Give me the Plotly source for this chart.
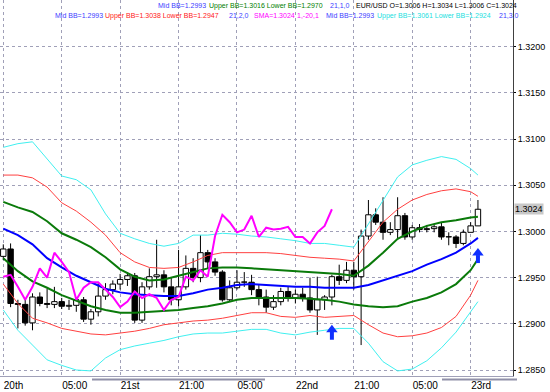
import plotly.graph_objects as go

# ---------------- data ----------------
bars = list(range(66))
opens = [1.2973, 1.2981, 1.2922, 1.2921, 1.2901, 1.2929, 1.2922, 1.2921, 1.2924, 1.2919,
         1.2920, 1.2926, 1.2905, 1.2913, 1.2930, 1.2937, 1.2943, 1.2948, 1.2952, 1.2904,
         1.2940, 1.2951, 1.2953, 1.2940, 1.2926, 1.2940, 1.2960, 1.2950, 1.2977, 1.2967,
         1.2956, 1.2926, 1.2939, 1.2945, 1.2945, 1.2937, 1.2929, 1.2918, 1.2924, 1.2935,
         1.2928, 1.2932, 1.2928, 1.2915, 1.2926, 1.2929, 1.2951, 1.2947, 1.2958, 1.2951,
         1.2995, 1.3018, 1.3010, 1.2999, 1.3002, 1.3017, 1.2994, 1.3004, 1.3002, 1.3003,
         1.3005, 1.2994, 1.2994, 1.2987, 1.2999, 1.3006]
highs = [1.2986, 1.2987, 1.2926, 1.2926, 1.2933, 1.2934, 1.2938, 1.2940, 1.2928, 1.2926,
         1.2929, 1.2929, 1.2916, 1.2944, 1.2944, 1.2947, 1.2954, 1.2956, 1.2955, 1.2945,
         1.2960, 1.2991, 1.2958, 1.2950, 1.2980, 1.2974, 1.2971, 1.2996, 1.2980, 1.2971,
         1.2958, 1.2947, 1.2958, 1.2956, 1.2953, 1.2942, 1.2937, 1.2931, 1.2939, 1.2940,
         1.2937, 1.2939, 1.2950, 1.2951, 1.2931, 1.2953, 1.2964, 1.2967, 1.2967, 1.3002,
         1.3034, 1.3025, 1.3037, 1.3010, 1.3037, 1.3020, 1.3007, 1.3008, 1.3007, 1.3007,
         1.3010, 1.2999, 1.2996, 1.3002, 1.3010, 1.3034]
lows = [1.2969, 1.2918, 1.2895, 1.2898, 1.2893, 1.2919, 1.2917, 1.2917, 1.2916, 1.2915,
        1.2913, 1.2902, 1.2899, 1.2908, 1.2926, 1.2932, 1.2937, 1.2941, 1.2901, 1.2901,
        1.2937, 1.2939, 1.2934, 1.2920, 1.2919, 1.2937, 1.2945, 1.2945, 1.2960, 1.2952,
        1.2924, 1.2924, 1.2937, 1.2940, 1.2931, 1.2920, 1.2912, 1.2915, 1.2920, 1.2924,
        1.2922, 1.2924, 1.2912, 1.2888, 1.2915, 1.2920, 1.2942, 1.2944, 1.2937, 1.2877,
        1.2991, 1.3007, 1.2991, 1.2996, 1.2991, 1.2991, 1.2991, 1.2999, 1.2999, 1.2999,
        1.2991, 1.2985, 1.2982, 1.2985, 1.2999, 1.3006]
closes = [1.2981, 1.2922, 1.2921, 1.2901, 1.2929, 1.2922, 1.2921, 1.2924, 1.2919, 1.2920,
          1.2926, 1.2905, 1.2913, 1.2930, 1.2937, 1.2943, 1.2948, 1.2952, 1.2904, 1.2940,
          1.2951, 1.2953, 1.2940, 1.2926, 1.2940, 1.2960, 1.2950, 1.2977, 1.2967, 1.2956,
          1.2926, 1.2939, 1.2945, 1.2945, 1.2937, 1.2929, 1.2918, 1.2924, 1.2935, 1.2928,
          1.2932, 1.2928, 1.2915, 1.2926, 1.2929, 1.2951, 1.2947, 1.2958, 1.2951, 1.2995,
          1.3018, 1.3010, 1.2999, 1.3002, 1.3017, 1.2994, 1.3004, 1.3002, 1.3003, 1.3005,
          1.2994, 1.2994, 1.2987, 1.2999, 1.3006, 1.3024]

band_x = list(range(0, 65, 2)) + [65]
mid_bb = [1.3003, 1.2996, 1.2986, 1.2971, 1.2961, 1.2952, 1.2945, 1.2938, 1.2934, 1.2932,
          1.2931, 1.2930, 1.2930, 1.2933, 1.2937, 1.2939, 1.2942, 1.2943, 1.2942, 1.2941,
          1.2940, 1.2940, 1.2939, 1.2939, 1.2939, 1.2942, 1.2947, 1.2952, 1.2957, 1.2964,
          1.2970, 1.2977, 1.2987, 1.2993]
upper_1 = [1.3032, 1.3026, 1.3021, 1.3011, 1.2998, 1.2991, 1.2983, 1.2972, 1.2959, 1.2951,
           1.2947, 1.2948, 1.2952, 1.2956, 1.2960, 1.2961, 1.2961, 1.2960, 1.2959, 1.2958,
           1.2957, 1.2956, 1.2955, 1.2954, 1.2952, 1.2963, 1.2977, 1.2992, 1.3000, 1.3006,
           1.3010, 1.3012, 1.3015, 1.3016]
lower_1 = [1.2971, 1.2957, 1.2946, 1.2939, 1.2931, 1.2925, 1.2919, 1.2915, 1.2912, 1.2912,
           1.2913, 1.2914, 1.2915, 1.2917, 1.2919, 1.2922, 1.2926, 1.2928, 1.2928, 1.2928,
           1.2928, 1.2927, 1.2926, 1.2924, 1.2921, 1.2919, 1.2918, 1.2919, 1.2924, 1.2928,
           1.2934, 1.2943, 1.2958, 1.2970]
upper_2 = [1.3061, 1.3061, 1.3058, 1.3048, 1.3031, 1.3022, 1.3010, 1.2996, 1.2977, 1.2967,
           1.2961, 1.2960, 1.2961, 1.2967, 1.2974, 1.2977, 1.2977, 1.2977, 1.2977, 1.2976,
           1.2974, 1.2972, 1.2971, 1.2970, 1.2968, 1.2989, 1.3010, 1.3024, 1.3034, 1.3040,
           1.3044, 1.3046, 1.3043, 1.3038]
lower_2 = [1.2943, 1.2922, 1.2906, 1.2901, 1.2895, 1.2892, 1.2889, 1.2888, 1.2890, 1.2892,
           1.2895, 1.2899, 1.2901, 1.2903, 1.2904, 1.2906, 1.2909, 1.2912, 1.2912, 1.2908,
           1.2907, 1.2909, 1.2907, 1.2908, 1.2909, 1.2899, 1.2890, 1.2886, 1.2887, 1.2890,
           1.2896, 1.2908, 1.2931, 1.2947]
upper_3 = [1.3091, 1.3095, 1.3097, 1.3079, 1.3060, 1.3056, 1.3045, 1.3019, 1.2998, 1.2992,
           1.2987, 1.2984, 1.2987, 1.2996, 1.2996, 1.2998, 1.2997, 1.2995, 1.2994, 1.2992,
           1.2990, 1.2987, 1.2987, 1.2985, 1.2983, 1.3008, 1.3034, 1.3059, 1.3072, 1.3077,
           1.3081, 1.3078, 1.3068, 1.3061]
lower_3 = [1.2915, 1.2893, 1.2877, 1.2861, 1.2855, 1.2850, 1.2849, 1.2863, 1.2872, 1.2876,
           1.2879, 1.2882, 1.2886, 1.2889, 1.2890, 1.2890, 1.2892, 1.2894, 1.2894, 1.2890,
           1.2888, 1.2891, 1.2893, 1.2895, 1.2895, 1.2879, 1.2859, 1.2849, 1.2851, 1.2860,
           1.2874, 1.2891, 1.2913, 1.2924]

sma_shift = 20            # SMA(1) shifted -20 bars
signal_bars = [45, 65]
signal_prices = [1.2899, 1.2982]   # arrow tip prices

time_tick_bars = [0, 8, 16, 24, 32, 40, 48, 56, 64]
time_tick_labels = ["20th", "05:00", "21st", "21:00", "05:00", "22nd", "21:00", "05:00", "23rd"]
price_ticks = [1.2850, 1.2900, 1.2950, 1.3000, 1.3050, 1.3100, 1.3150, 1.3200]
last_price = 1.3024

# ---------------- colours ----------------
C_MID = "#0000ff"
C_BB1 = "#0a7a0a"
C_BB2 = "#ff4040"
C_BB3 = "#40f0f0"
C_SMA = "#ff00ff"
C_LBL = "#4040ff"
C_ARROW = "#1030ff"

Y_RANGE = [1.28435, 1.32505]
PW, PH = 513.0, 376.0
PX = (Y_RANGE[1] - Y_RANGE[0]) / PH   # price per screen pixel (for arrow styling)

fig = go.Figure()

# candle bodies
body_base = [min(o, c) for o, c in zip(opens, closes)]
body_h = [max(abs(c - o), 0.00003) for o, c in zip(opens, closes)]
body_col = ["#ffffff" if c >= o else "#000000" for o, c in zip(opens, closes)]
fig.add_trace(go.Bar(x=bars, y=body_h, base=body_base, width=0.74,
                     marker=dict(color=body_col, line=dict(color="#000000", width=1)),
                     hoverinfo="skip", showlegend=False))

# wicks
wx, wy = [], []
for i, o, h, l, c in zip(bars, opens, highs, lows, closes):
    top, bot = max(o, c), min(o, c)
    wx += [i, i, None, i, i, None]
    wy += [h, top, None, bot, l, None]
fig.add_trace(go.Scatter(x=wx, y=wy, mode="lines", line=dict(color="#000000", width=1),
                         hoverinfo="skip", showlegend=False))

def band(y, color, width):
    fig.add_trace(go.Scatter(x=band_x, y=y, mode="lines", line=dict(color=color, width=width),
                             hoverinfo="skip", showlegend=False))

band(upper_3, C_BB3, 1)
band(lower_3, C_BB3, 1)
band(upper_2, C_BB2, 1)
band(lower_2, C_BB2, 1)
band(upper_1, C_BB1, 2)
band(lower_1, C_BB1, 2)
band(mid_bb, C_MID, 2)

# shifted SMA(1)
fig.add_trace(go.Scatter(x=bars[:len(bars) - sma_shift], y=closes[sma_shift:], mode="lines",
                         line=dict(color=C_SMA, width=2), hoverinfo="skip", showlegend=False))

# signal arrows: stem + triangular head
sx, sy = [], []
for b, p in zip(signal_bars, signal_prices):
    sx += [b, b, None]
    sy += [p - 7 * PX, p - 15 * PX, None]
fig.add_trace(go.Scatter(x=sx, y=sy, mode="lines", line=dict(color=C_ARROW, width=4),
                         hoverinfo="skip", showlegend=False))
fig.add_trace(go.Scatter(x=signal_bars, y=[p - 5 * PX for p in signal_prices], mode="markers",
                         marker=dict(symbol="triangle-up", size=10, color=C_ARROW,
                                     line=dict(width=0)),
                         hoverinfo="skip", showlegend=False))

# header texts (pixel positions converted to paper)
def txt(s, px, py, color):
    fig.add_annotation(x=px / PW, y=1 - py / PH, xref="paper", yref="paper", text=s,
                       showarrow=False, xanchor="left", yanchor="middle",
                       font=dict(family="Liberation Sans, Arial", size=7, color=color))

txt("Mid BB=1.2993", 156, 6, C_LBL)
txt("Upper BB=1.3016 Lower BB=1.2970", 207, 6, "#008000")
txt("21,1,0", 328, 6, C_LBL)
txt("EUR/USD O=1.3006 H=1.3034 L=1.3006 C=1.3024", 354, 6, "#000000")
txt("Mid BB=1.2993", 53, 16, C_LBL)
txt("Upper BB=1.3038 Lower BB=1.2947", 103, 16, "#ff2020")
txt("21,2,0", 227, 16, C_LBL)
txt("SMA=1.3024", 252, 16, C_SMA)
txt("1,-20,1", 295, 16, C_SMA)
txt("Mid BB=1.2993", 324, 16, C_LBL)
txt("Upper BB=1.3061 Lower BB=1.2924", 375, 16, "#20e0e0")
txt("21,3,0", 497, 16, C_LBL)

# current price label
fig.add_annotation(x=1, y=last_price, xref="paper", yref="y", text="%.4f" % last_price,
                   showarrow=False, xanchor="left", yanchor="middle", xshift=1,
                   bgcolor="#c8c8c8", borderpad=0,
                   font=dict(family="Liberation Sans, Arial", size=9, color="#000000"))

# separators under time axis
for x0, x1 in [(92, 265), (442, 517)]:
    fig.add_shape(type="line", xref="paper", yref="paper", x0=x0 / PW, x1=x1 / PW,
                  y0=-3.5 / PH, y1=-3.5 / PH, line=dict(color="#9090a8", width=2))

GRID = "#a0a0b8"
fig.update_layout(
    width=550, height=392, margin=dict(l=0, r=37, t=0, b=16),
    paper_bgcolor="#ffffff", plot_bgcolor="#ffffff", showlegend=False,
    xaxis=dict(range=[-0.45, 69.8], tickvals=time_tick_bars, ticktext=time_tick_labels,
               showgrid=True, gridcolor=GRID, griddash="dot", gridwidth=1,
               zeroline=False, showline=True, linecolor="#a0a0b8", ticks="",
               ticklabelposition="outside right",
               tickfont=dict(family="Liberation Sans, Arial", size=10, color="#000000")),
    yaxis=dict(range=Y_RANGE, side="right", tickvals=price_ticks,
               ticktext=["%.4f" % v for v in price_ticks],
               showgrid=True, gridcolor=GRID, griddash="dot", gridwidth=1,
               zeroline=False, showline=True, linecolor="#404040",
               ticks="outside", ticklen=2, tickcolor="#000000",
               tickfont=dict(family="Liberation Sans, Arial", size=9, color="#000000")),
)

fig.write_html("out.html")
